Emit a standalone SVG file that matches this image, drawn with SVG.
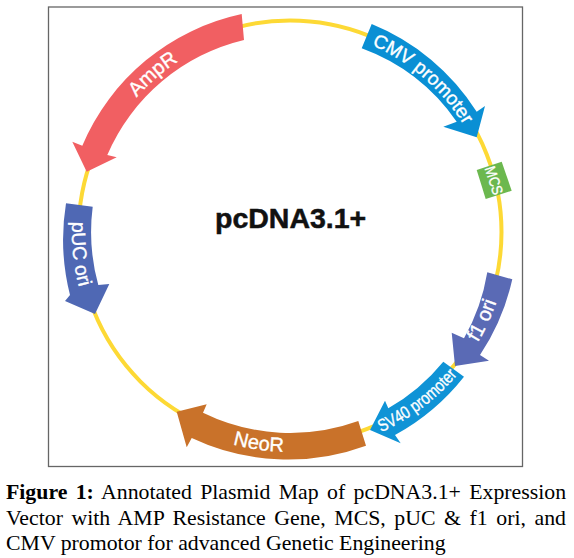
<svg xmlns="http://www.w3.org/2000/svg" width="574" height="558" viewBox="0 0 574 558">
<style>
.lbl{font-family:"Liberation Sans",Arial,sans-serif;fill:#fff;stroke:#fff;stroke-width:.35;text-anchor:middle}
.cap{font-family:"Liberation Serif","Times New Roman",serif;font-size:21.8px;fill:#000}
</style>
<defs>
<path id="tCMV" d="M328.9 31.8A204 204 0 0 1 482.9 165.6"/>
<path id="tAmp" d="M97.1 165.6A204 204 0 0 1 251.1 31.8"/>
<path id="tPUC" d="M90.8 143.3A218 218 0 0 0 113.6 360.1"/>
<path id="tF1" d="M416.2 409.7A218 218 0 0 0 507 211.5"/>
<path id="tSV" d="M335.7 447.2A220 220 0 0 0 484.2 335.3"/>
<path id="tNeo" d="M153.4 404.4A220 220 0 0 0 371 436.5"/>
</defs>
<rect x="0" y="0" width="574" height="558" fill="#fff"/>
<rect x="48.5" y="7" width="474" height="459.5" fill="#fff" stroke="#666" stroke-width="1.3"/>
<g id="connectors"><circle cx="290" cy="232" r="211.5" fill="none" stroke="#fdd935" stroke-width="4"/></g>
<g id="cmv"><path fill="#0a8fd4" d="M371.7 24A224 224 0 0 1 476.7 111.7L485 106L476.7 137.3L443.3 126.7L456.7 121.7A199 199 0 0 0 361.7 48.3Z"/>
<text class="lbl" font-size="19"><textPath href="#tCMV" startOffset="50%">CMV promoter</textPath></text></g>
<g id="mcs"><path fill="#6cb84f" d="M476.7 170L501.7 161.7L511.7 190.7L485.7 199Z"/>
<text class="lbl" font-size="15" transform="translate(494 180.5) rotate(72)" y="5.2" textLength="29" lengthAdjust="spacingAndGlyphs">MCS</text></g>
<g id="f1ori"><path fill="#5a6ab5" d="M487.3 272.3L512.3 279.3A226 226 0 0 1 480 355L489 360.7L455 366L451.7 332.7L464 338.3A199 199 0 0 0 487.3 272.3Z"/>
<text class="lbl" font-size="20"><textPath href="#tF1" startOffset="50%">f1 ori</textPath></text></g>
<g id="sv40"><path fill="#0f93d6" d="M443.3 361.7L464 376.7A226 226 0 0 1 395 435L400.7 443.3L370 430L385 400.7L388.3 408.3A199 199 0 0 0 443.3 361.7Z"/>
<text class="lbl" font-size="17.5"><textPath href="#tSV" startOffset="50%" textLength="96" lengthAdjust="spacingAndGlyphs">SV40 promoter</textPath></text></g>
<g id="neor"><path fill="#c9722a" d="M358.3 421L366 445.7A226 226 0 0 1 191.7 438L186.7 447.3L176.7 411.7L206.7 404.3L203 412.7A199 199 0 0 0 358.3 421Z"/>
<text class="lbl" font-size="20"><textPath href="#tNeo" startOffset="50%">NeoR</textPath></text></g>
<g id="puc"><path fill="#4f68b4" d="M66 203.3L92.7 206.7A199 199 0 0 0 98.3 285L109.3 284L95 314L65 301L70 295A226 226 0 0 1 66 203.3Z"/>
<text class="lbl" font-size="19.5"><textPath href="#tPUC" startOffset="50%">pUC ori</textPath></text></g>
<g id="ampr"><path fill="#f15f62" d="M241.7 14L244 40A199 199 0 0 0 107.3 155L116.7 157.3L86.7 171.7L72.3 141.7L82.3 145.7A224 224 0 0 1 241.7 14Z"/>
<text class="lbl" font-size="20"><textPath href="#tAmp" startOffset="50%">AmpR</textPath></text></g>
<g id="title"><text x="215" y="228" font-family="'Liberation Sans',Arial,sans-serif" font-weight="700" font-size="28.5" fill="#111" stroke="#111" stroke-width=".5">pcDNA3.1+</text></g>
<g id="caption">
<text class="cap" x="6" y="499" word-spacing="2.9"><tspan font-weight="700">Figure 1:</tspan> Annotated Plasmid Map of pcDNA3.1+ Expression</text>
<text class="cap" x="6" y="525" word-spacing="3.1">Vector with AMP Resistance Gene, MCS, pUC &amp; f1 ori, and</text>
<text class="cap" x="6" y="549.5">CMV promotor for advanced Genetic Engineering</text>
</g>
</svg>
